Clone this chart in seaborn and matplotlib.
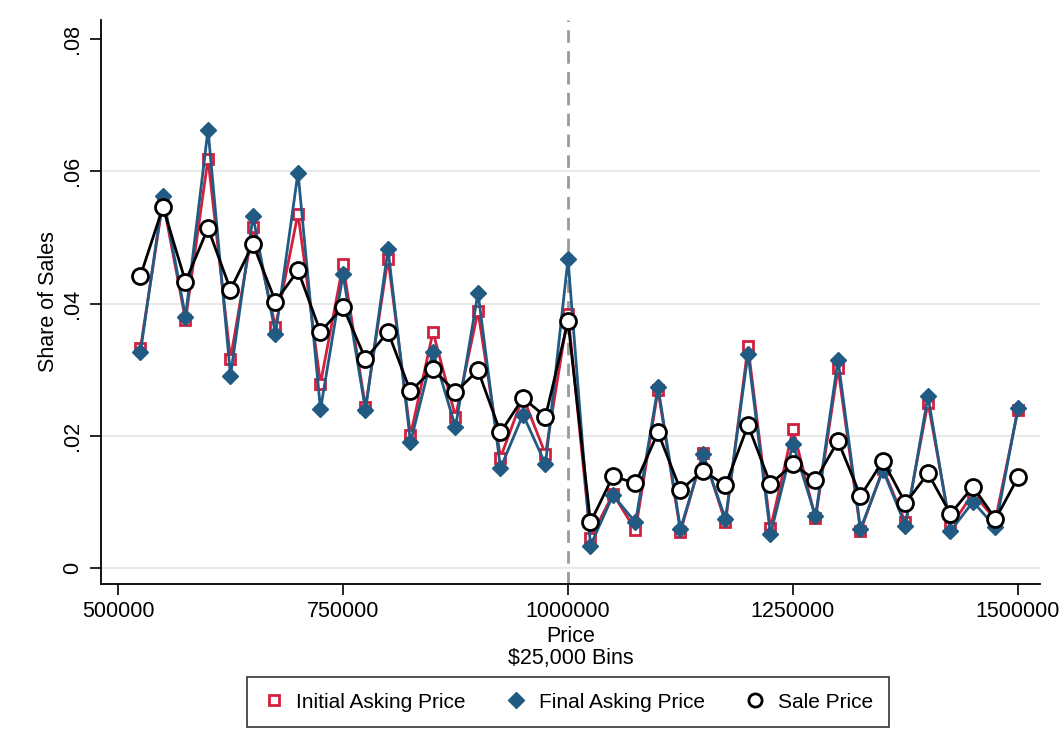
import numpy as np
import pandas as pd
import matplotlib
matplotlib.use("Agg")
import matplotlib.pyplot as plt
from matplotlib.lines import Line2D
from matplotlib.ticker import FixedLocator, FixedFormatter
import seaborn as sns

price_bins = list(range(525000, 1500001, 25000))
initial_ask = [0.0333, 0.0555, 0.0375, 0.0619, 0.0316, 0.0516, 0.0365, 0.0536, 0.0279, 0.0459,
               0.0243, 0.0468, 0.0201, 0.0357, 0.0229, 0.0388, 0.0167, 0.0259, 0.0172, 0.0384,
               0.0045, 0.0112, 0.0057, 0.0269, 0.0055, 0.0174, 0.0069, 0.0335, 0.0060, 0.0210,
               0.0075, 0.0302, 0.0056, 0.0150, 0.0069, 0.0250, 0.0062, 0.0113, 0.0073, 0.0239]
final_ask = [0.0327, 0.0563, 0.0380, 0.0663, 0.0291, 0.0532, 0.0354, 0.0598, 0.0240, 0.0444,
             0.0239, 0.0482, 0.0190, 0.0327, 0.0213, 0.0416, 0.0151, 0.0232, 0.0157, 0.0467,
             0.0034, 0.0110, 0.0069, 0.0274, 0.0059, 0.0172, 0.0074, 0.0324, 0.0051, 0.0188,
             0.0078, 0.0315, 0.0059, 0.0148, 0.0064, 0.0260, 0.0056, 0.0100, 0.0062, 0.0242]
sale_price = [0.0442, 0.0546, 0.0433, 0.0514, 0.0421, 0.0490, 0.0403, 0.0450, 0.0357, 0.0395,
              0.0316, 0.0357, 0.0267, 0.0301, 0.0266, 0.0299, 0.0205, 0.0257, 0.0229, 0.0373,
              0.0069, 0.0139, 0.0128, 0.0205, 0.0118, 0.0147, 0.0125, 0.0216, 0.0127, 0.0157,
              0.0133, 0.0192, 0.0109, 0.0162, 0.0098, 0.0143, 0.0082, 0.0123, 0.0074, 0.0137]
series_names = ["Initial Asking Price", "Final Asking Price", "Sale Price"]
x_ticks = [500000, 750000, 1000000, 1250000, 1500000]
y_ticks = [0, 0.02, 0.04, 0.06, 0.08]
y_tick_labels = ["0", ".02", ".04", ".06", ".08"]
cutoff = 1000000

sns.set_style("white")
plt.rcParams['font.family'] = ['Liberation Sans', 'DejaVu Sans']
plt.rcParams['text.color'] = 'black'
plt.rcParams['axes.labelcolor'] = 'black'
plt.rcParams['xtick.color'] = 'black'
plt.rcParams['ytick.color'] = 'black'

RED = "#d2203e"
BLUE = "#215a82"

fig = plt.figure(figsize=(10.62, 7.29), dpi=100)
ax = fig.add_axes([101/1062, 1-584/729, (1040-101)/1062, (584-20)/729])

for yv in y_ticks[:-1]:
    ax.axhline(yv, color="#e8e8e8", lw=1.5, zorder=0)
ax.axvline(cutoff, color="#999999", lw=2, ls=(0, (4.5, 3)), zorder=1)

df = pd.DataFrame({"price": price_bins, "initial": initial_ask,
                   "final": final_ask, "sale": sale_price})

styles = [
    ("initial", RED, "s", 7.5, "white", 2.0),
    ("final", BLUE, "D", 8.5, BLUE, 1.0),
    ("sale", "black", "o", 11.5, "white", 2.0),
]
for col, c, m, ms, fc, mew in styles:
    sns.lineplot(data=df, x="price", y=col, ax=ax, color=c, lw=2,
                 marker=m, markersize=ms, markerfacecolor=fc,
                 markeredgecolor=c, markeredgewidth=mew, legend=False, zorder=3)

ax.set_xlim(500000 - 17/900*1e6, 500000 + 922/900*1e6)
ax.set_ylim(-16/6612.5, 0.08 + 19/6612.5)
ax.xaxis.set_major_locator(FixedLocator(x_ticks))
ax.xaxis.set_major_formatter(FixedFormatter([str(v) for v in x_ticks]))
ax.yaxis.set_major_locator(FixedLocator(y_ticks))
ax.yaxis.set_major_formatter(FixedFormatter(y_tick_labels))
ax.tick_params(axis="both", direction="out", length=8, width=1.2, color="black",
               labelcolor="black", labelsize=15.5, left=True, bottom=True)
ax.tick_params(axis="x", pad=4)
ax.tick_params(axis="y", pad=5)
for lab in ax.get_yticklabels():
    lab.set_rotation(90)
    lab.set_va("center")

for s in ["top", "right"]:
    ax.spines[s].set_visible(False)
for s in ["left", "bottom"]:
    ax.spines[s].set_color("black")
    ax.spines[s].set_linewidth(1.3)

ax.set_xlabel("Price\n$25,000 Bins", fontsize=15.5, labelpad=3, linespacing=1.05, color="black")
ax.set_ylabel("Share of Sales", fontsize=15.5, labelpad=2, color="black")

handles = [
    Line2D([], [], ls="none", marker="s", ms=7.5, mfc="white", mec=RED, mew=2.0),
    Line2D([], [], ls="none", marker="D", ms=8.5, mfc=BLUE, mec=BLUE, mew=1.0),
    Line2D([], [], ls="none", marker="o", ms=9.5, mfc="white", mec="black", mew=2.0),
]
leg = fig.legend(handles, series_names, loc="center", bbox_to_anchor=(568/1062, 1-702/729),
                 ncol=3, frameon=True, fancybox=False, edgecolor="black", fontsize=15,
                 handlelength=1.0, handletextpad=0.6, columnspacing=1.9, borderpad=0.75)
leg.get_frame().set_linewidth(1.2)

fig.savefig("out.png", dpi=100)
